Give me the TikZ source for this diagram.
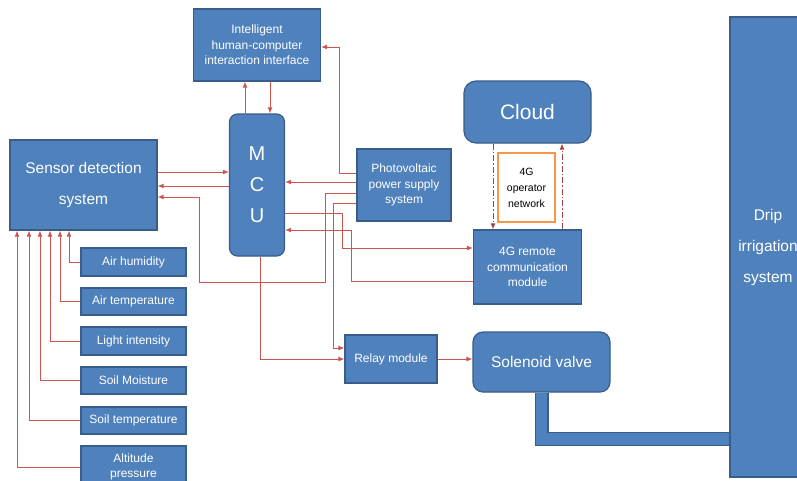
\documentclass[tikz,border=0pt]{standalone}
\usepackage{fontspec}
\setmainfont{Liberation Sans}
\usetikzlibrary{arrows.meta,backgrounds}
\definecolor{boxblue}{RGB}{79,129,189}
\definecolor{boxedge}{RGB}{56,93,138}
\definecolor{wirered}{RGB}{205,85,80}
\definecolor{netorange}{RGB}{247,150,70}

\begin{document}
\begin{tikzpicture}[x=1pt,y=-1pt,
	blk/.style={fill=boxblue, draw=boxedge, line width=1.2pt, text=white, align=center, inner sep=0pt},
	small/.style={font=\fontsize{12}{15.5}\selectfont},
	big/.style={font=\fontsize{15.5}{31}\selectfont},
	wire/.style={draw=wirered, line width=0.9pt, -{Latex[length=6pt,width=5pt]}},
	link/.style={draw=wirered!80!black, line width=0.9pt, dash pattern=on 6pt off 2pt on 1.5pt off 2pt, -{Latex[length=6pt,width=5pt]}}]
	\useasboundingbox (0,0) rectangle (797,480);

	% control and communication blocks
	\node [blk, small, minimum width=127pt, minimum height=72pt] (hci) at (257, 45) {Intelligent\\human-computer\\interaction interface};
	\node [blk, big, minimum width=147pt, minimum height=90pt] (sensor) at (83.5, 185) {Sensor detection\\system};
	\node [blk, rounded corners=8pt, minimum width=55pt, minimum height=142pt, font=\fontsize{20}{31}\selectfont] (mcu) at (257, 185) {M\\C\\U};
	\node [blk, small, minimum width=94pt, minimum height=72pt] (pv) at (404, 185) {Photovoltaic\\power supply\\system};
	\node [blk, rounded corners=12pt, minimum width=127pt, minimum height=62pt, font=\fontsize{21}{25}\selectfont] (cloud) at (527.5, 112) {Cloud};
	\node [draw=netorange, line width=1.5pt, fill=white, minimum width=57pt, minimum height=69pt, align=center, inner sep=0pt, font=\fontsize{10.5}{16}\selectfont] (opnet) at (526.5, 187.5) {4G\\operator\\network};
	\node [blk, small, minimum width=108pt, minimum height=74pt] (gsm) at (527.5, 267) {4G remote\\communication\\module};
	\node [blk, small, minimum width=92pt, minimum height=48pt] (relay) at (391, 359) {Relay module};
	\node [blk, big, rounded corners=10pt, minimum width=137pt, minimum height=60pt] (valve) at (541.5, 362) {Solenoid valve};
	\node [blk, big, minimum width=76pt, minimum height=460pt] (drip) at (768, 247) {Drip\\irrigation\\system};

	% sensors
	\foreach \name/\txt/\yc/\h in {hum/Air humidity/262/28, atemp/Air temperature/301.5/27, light/Light intensity/341/28, moist/Soil Moisture/380.5/27, stemp/Soil temperature/420.5/27, alt/{Altitude\\pressure}/467/42}
		\node [blk, small, minimum width=105pt, minimum height=\h pt] (\name) at (133.5, \yc) {\txt};
	\foreach \name/\dx in {hum/-14.5, atemp/-23.5, light/-33.5, moist/-43.5, stemp/-54.5, alt/-66.5}
		\draw [wire] (\name.west) -| ([xshift=\dx pt]sensor.south);

	% water pipe from the valve
	\begin{scope}[on background layer]
		\fill [white] (0,0) rectangle (797,480);
		\draw [boxedge, line width=14pt] (valve.south) |- ([yshift=-192pt]drip.west);
		\draw [boxblue, line width=11.5pt] (valve.south) |- ([yshift=-192pt]drip.west);
	\end{scope}

	% signal lines
	\draw [wire] ([xshift=-12pt]mcu.north) -- ([xshift=-12pt]hci.south);
	\draw [wire] ([xshift=13pt]hci.south) -- ([xshift=13pt]mcu.north);
	\draw [wire] ([yshift=13pt]sensor.east) -- ([yshift=13pt]mcu.west);
	\draw [wire] ([yshift=-1pt]mcu.west) -- ([yshift=-1pt]sensor.east);
	\draw [wire] ([yshift=-8pt]pv.west) -- ++(-31,0) -- ++(0,89) -- ++(-126,0) |- ([yshift=-12pt]sensor.east);
	\draw [wire] ([yshift=3pt]pv.west) -- ([yshift=3pt]mcu.east);
	\draw [wire] ([yshift=12pt]pv.west) -- ++(-17,0) |- ([yshift=-2pt]hci.east);
	\draw [wire] ([yshift=-18pt]pv.west) -- ++(-23,0) |- ([yshift=11pt]relay.west);
	\draw [wire] ([yshift=-28pt]mcu.east) -- ++(57.5,0) |- ([yshift=19pt]gsm.west);
	\draw [wire] ([yshift=-14pt]gsm.west) -- ++(-121.5,0) |- ([yshift=-45pt]mcu.east);
	\draw [wire] ([xshift=3pt]mcu.south) |- (relay.west);
	\draw [wire] (relay.east) -- (relay.east -| valve.west);
	\draw [link] ([xshift=-34.5pt]cloud.south) -- ([xshift=-34.5pt]gsm.north);
	\draw [link] ([xshift=34.5pt]gsm.north) -- ([xshift=34.5pt]cloud.south);
\end{tikzpicture}
\end{document}
